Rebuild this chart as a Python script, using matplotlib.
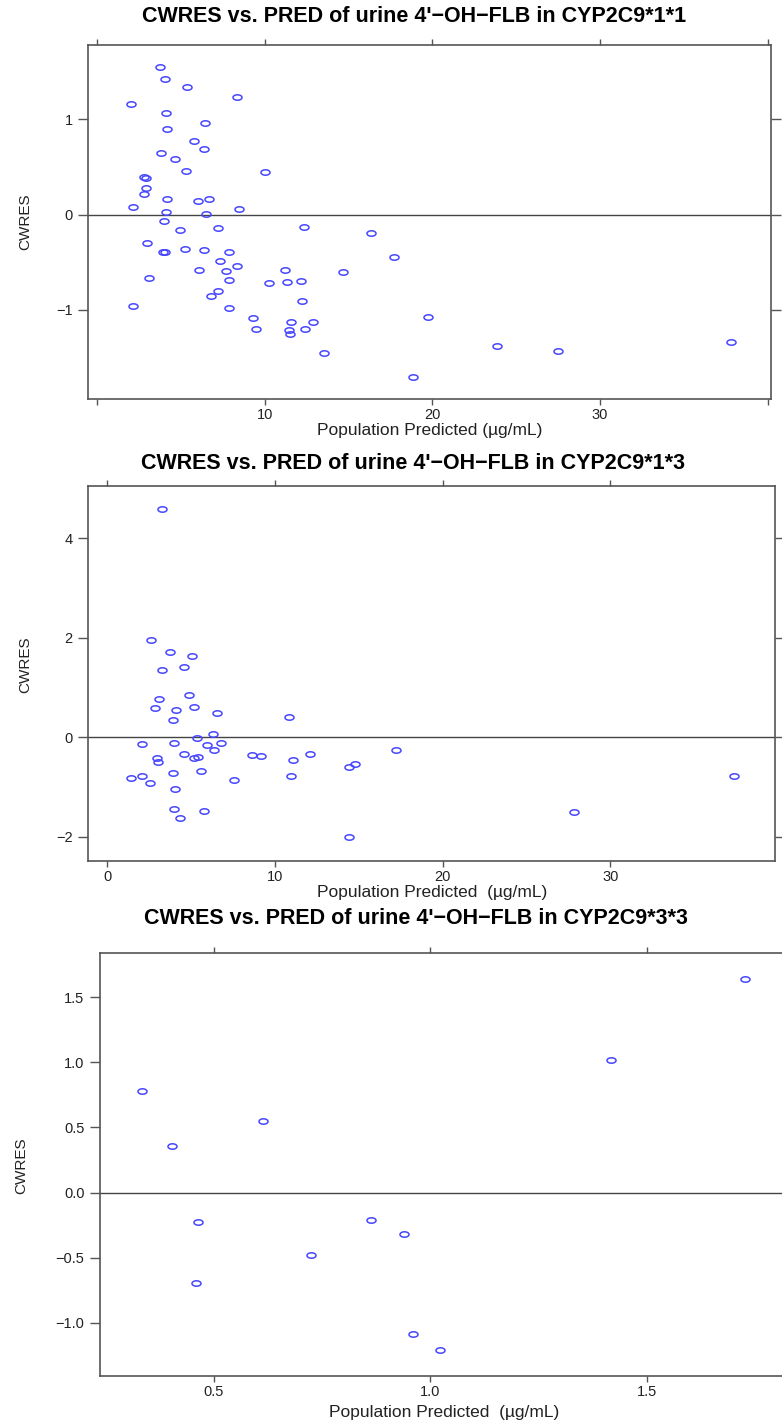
import numpy as np
import matplotlib
matplotlib.use("Agg")
import matplotlib.pyplot as plt
from matplotlib.path import Path

# CYP2C9*1*1 : population predicted vs CWRES
pred_11 = [3.78, 4.08, 5.37, 8.35, 2.03, 4.12, 6.46, 4.16, 5.80, 6.40,
           3.84, 4.67, 5.29, 10.0, 2.78, 2.92, 2.94, 2.82, 2.17, 4.16,
           6.04, 6.70, 4.14, 8.45, 6.48, 4.00, 4.93, 7.22, 12.33, 16.36,
           17.71, 2.96, 3.92, 4.08, 5.25, 6.38, 7.85, 7.32, 8.35, 6.06,
           7.71, 11.23, 14.69, 3.08, 7.89, 11.35, 12.19, 10.24, 7.22, 6.80,
           12.23, 2.17, 7.87, 9.32, 9.46, 11.59, 12.86, 11.45, 11.49, 12.43,
           13.56, 18.86, 19.71, 23.85, 27.47, 37.79]
cwres_11 = [1.54, 1.42, 1.34, 1.23, 1.16, 1.06, 0.96, 0.90, 0.77, 0.69,
            0.64, 0.58, 0.46, 0.45, 0.39, 0.38, 0.28, 0.21, 0.08, 0.16,
            0.14, 0.16, 0.03, 0.06, 0.01, -0.07, -0.16, -0.14, -0.13, -0.19,
            -0.45, -0.30, -0.39, -0.39, -0.36, -0.37, -0.39, -0.49, -0.54, -0.58,
            -0.59, -0.58, -0.60, -0.66, -0.69, -0.71, -0.70, -0.72, -0.80, -0.85,
            -0.91, -0.96, -0.98, -1.08, -1.20, -1.13, -1.13, -1.21, -1.25, -1.20,
            -1.45, -1.70, -1.07, -1.38, -1.43, -1.33]

# CYP2C9*1*3
pred_13 = [3.29, 2.59, 3.75, 5.08, 3.25, 4.58, 4.88, 3.07, 2.87, 4.12,
           5.16, 6.55, 3.94, 10.86, 6.29, 5.34, 2.07, 3.98, 5.94, 6.77,
           6.35, 4.60, 2.97, 3.05, 5.16, 5.42, 8.65, 9.14, 11.10, 12.11,
           14.44, 14.74, 5.58, 3.92, 1.41, 2.05, 2.53, 7.57, 10.94, 4.06,
           4.00, 4.32, 5.78, 14.44, 17.24, 27.83, 37.34]
cwres_13 = [4.58, 1.95, 1.71, 1.63, 1.36, 1.42, 0.84, 0.76, 0.59, 0.54,
            0.60, 0.49, 0.35, 0.41, 0.07, -0.01, -0.13, -0.11, -0.15, -0.11,
            -0.25, -0.33, -0.41, -0.49, -0.41, -0.39, -0.36, -0.37, -0.46, -0.33,
            -0.61, -0.54, -0.68, -0.73, -0.83, -0.78, -0.92, -0.86, -0.78, -1.04,
            -1.45, -1.63, -1.49, -2.01, -0.25, -1.50, -0.78]

# CYP2C9*3*3
pred_33 = [0.335, 0.403, 0.614, 0.463, 0.459, 0.725, 0.863, 0.940, 0.961, 1.022,
           1.417, 1.728]
cwres_33 = [0.78, 0.355, 0.55, -0.225, -0.69, -0.48, -0.207, -0.317, -1.084, -1.205,
            1.014, 1.64]

titles = ["CWRES vs. PRED of urine 4'\u2212OH\u2212FLB in CYP2C9*1*1",
          "CWRES vs. PRED of urine 4'\u2212OH\u2212FLB in CYP2C9*1*3",
          "CWRES vs. PRED of urine 4'\u2212OH\u2212FLB in CYP2C9*3*3"]
xlabels = ["Population Predicted (\u00b5g/mL)",
           "Population Predicted  (\u00b5g/mL)",
           "Population Predicted  (\u00b5g/mL)"]

W, H = 782, 1423
plt.rcParams['font.family'] = ['Liberation Sans', 'DejaVu Sans']

fig = plt.figure(figsize=(W / 100, H / 100), dpi=100)


def box(left, right, top, bottom):
    return [left / W, 1 - bottom / H, (right - left) / W, (bottom - top) / H]


# the source image is squashed vertically, so the circles are ellipses
t = np.linspace(0, 2 * np.pi, 41)
ellipse = Path(np.column_stack([np.cos(t), 0.6 * np.sin(t)]), closed=True)

panels = [
    dict(pos=box(88, 771, 45, 399), xlim=(-0.537, 40.19), ylim=(-1.932, 1.775),
         xt=[0, 10, 20, 30, 40], xtl=['', '10', '20', '30', ''],
         yt=[-1, 0, 1], ytl=['\u22121', '0', '1'],
         x=pred_11, y=cwres_11, title_xy=(414, 16), xlab_xy=(430, 431), ylab_xy=(25, 222)),
    dict(pos=box(88, 775, 486, 861), xlim=(-1.15, 39.81), ylim=(-2.49, 5.05),
         xt=[0, 10, 20, 30], xtl=['0', '10', '20', '30'],
         yt=[-2, 0, 2, 4], ytl=['\u22122', '0', '2', '4'],
         x=pred_13, y=cwres_13, title_xy=(413, 463), xlab_xy=(432, 893), ylab_xy=(25, 665)),
    dict(pos=box(99.7, 800, 953, 1376), xlim=(0.237, 1.854), ylim=(-1.407, 1.838),
         xt=[0.5, 1.0, 1.5], xtl=['0.5', '1.0', '1.5'],
         yt=[-1.0, -0.5, 0.0, 0.5, 1.0, 1.5],
         ytl=['\u22121.0', '\u22120.5', '0.0', '0.5', '1.0', '1.5'],
         x=pred_33, y=cwres_33, title_xy=(416, 918), xlab_xy=(444, 1412), ylab_xy=(21, 1166)),
]

for i, p in enumerate(panels):
    ax = fig.add_axes(p['pos'])
    ax.axhline(0, color='#444444', lw=1.0, zorder=1)
    ax.plot(p['x'], p['y'], linestyle='none', marker=ellipse, markersize=6.5,
            markerfacecolor='none', markeredgecolor='#4646ff', markeredgewidth=1.1, zorder=2)
    ax.set_xlim(p['xlim'])
    ax.set_ylim(p['ylim'])
    ax.set_xticks(p['xt'])
    ax.set_xticklabels(p['xtl'])
    ax.set_yticks(p['yt'])
    ax.set_yticklabels(p['ytl'])
    for s in ax.spines.values():
        s.set_color('#555555')
        s.set_linewidth(1.2)
    ax.tick_params(axis='x', which='both', direction='out', length=4.5, width=1.0,
                   color='#555555', top=True, labelsize=10.5, pad=2, labelcolor='#222222')
    ax.tick_params(axis='y', which='both', direction='out', length=7, width=1.0,
                   color='#555555', right=True, labelsize=10.5, pad=4, labelcolor='#222222')

    tx, ty = p['title_xy']
    fig.text(tx / W, 1 - ty / H, titles[i], ha='center', va='center',
             fontsize=15.5, fontweight='bold', color='black')
    lx, ly = p['xlab_xy']
    fig.text(lx / W, 1 - ly / H, xlabels[i], ha='center', va='center',
             fontsize=12.5, color='#222222')
    yx, yy = p['ylab_xy']
    fig.text(yx / W, 1 - yy / H, 'CWRES', ha='center', va='center', rotation=90,
             fontsize=11, color='#222222', family=['Liberation Sans Narrow', 'Liberation Sans'])

fig.savefig('out.png', dpi=100)
